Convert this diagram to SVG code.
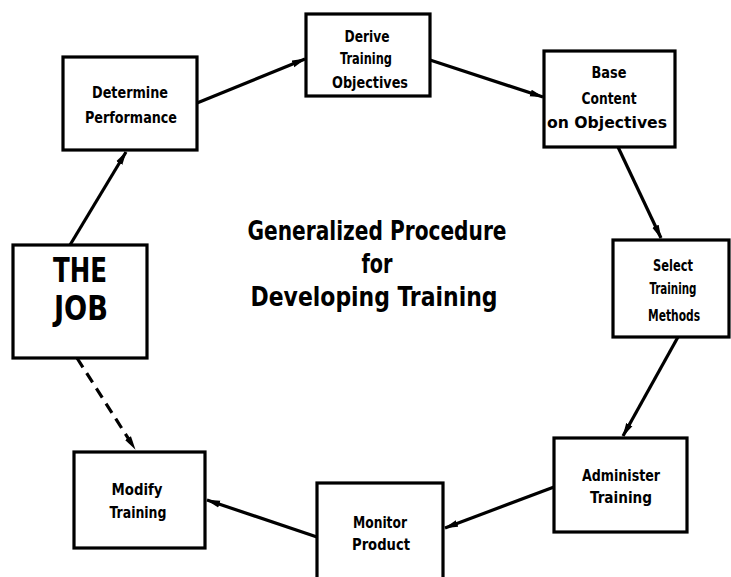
<svg xmlns="http://www.w3.org/2000/svg" width="731" height="577" viewBox="0 0 731 577">
<style>
.box{fill:#fff;stroke:#000;stroke-width:3.2}
.lbl{font-family:"Liberation Sans Narrow","DejaVu Sans Condensed","Liberation Sans",sans-serif;font-weight:bold;fill:#000;text-anchor:middle;font-size:16px}
.big{font-size:34px}
.title{font-size:27px}
.con{stroke:#000;stroke-width:3.2;fill:none}
.dash{stroke-dasharray:11 7}
</style>
<defs>
<marker id="ah" viewBox="0 0 14 8" refX="13" refY="4" markerWidth="14" markerHeight="8" markerUnits="userSpaceOnUse" orient="auto">
<path d="M0,0.5 L14,4 L0,7.5 Z" fill="#000"/>
</marker>
</defs>
<rect width="731" height="577" fill="#fff"/>
<g id="connectors">
<line class="con" x1="197" y1="103" x2="305" y2="59" marker-end="url(#ah)"/>
<line class="con" x1="430" y1="60" x2="543" y2="97" marker-end="url(#ah)"/>
<line class="con" x1="618" y1="147" x2="661" y2="238" marker-end="url(#ah)"/>
<line class="con" x1="678" y1="337" x2="623" y2="436" marker-end="url(#ah)"/>
<line class="con" x1="554" y1="487" x2="445" y2="528" marker-end="url(#ah)"/>
<line class="con" x1="317" y1="537" x2="207" y2="500" marker-end="url(#ah)"/>
<line class="con" x1="70" y1="245" x2="126" y2="152" marker-end="url(#ah)"/>
<line class="con dash" x1="77" y1="358" x2="135" y2="449" marker-end="url(#ah)"/>
</g>
<g id="determine">
<rect class="box" x="63" y="57" width="134" height="93"/>
<text class="lbl" x="130" y="98" textLength="76" lengthAdjust="spacingAndGlyphs">Determine</text>
<text class="lbl" x="131" y="123" textLength="92" lengthAdjust="spacingAndGlyphs">Performance</text>
</g>
<g id="derive">
<rect class="box" x="306" y="14" width="124" height="82"/>
<text class="lbl" x="367" y="42" textLength="45" lengthAdjust="spacingAndGlyphs">Derive</text>
<text class="lbl" x="366" y="64" textLength="52" lengthAdjust="spacingAndGlyphs">Training</text>
<text class="lbl" x="370" y="88" textLength="76" lengthAdjust="spacingAndGlyphs">Objectives</text>
</g>
<g id="base">
<rect class="box" x="544" y="51" width="131" height="96"/>
<text class="lbl" x="609" y="78" textLength="35" lengthAdjust="spacingAndGlyphs">Base</text>
<text class="lbl" x="609" y="104" textLength="55" lengthAdjust="spacingAndGlyphs">Content</text>
<text class="lbl" x="607" y="128" textLength="120" lengthAdjust="spacingAndGlyphs">on Objectives</text>
</g>
<g id="select">
<rect class="box" x="613" y="240" width="116" height="97"/>
<text class="lbl" x="673" y="271" textLength="40" lengthAdjust="spacingAndGlyphs">Select</text>
<text class="lbl" x="673" y="294" textLength="47" lengthAdjust="spacingAndGlyphs">Training</text>
<text class="lbl" x="674" y="321" textLength="52" lengthAdjust="spacingAndGlyphs">Methods</text>
</g>
<g id="administer">
<rect class="box" x="554" y="438" width="133" height="94"/>
<text class="lbl" x="621" y="481" textLength="78" lengthAdjust="spacingAndGlyphs">Administer</text>
<text class="lbl" x="621" y="503" textLength="62" lengthAdjust="spacingAndGlyphs">Training</text>
</g>
<g id="monitor">
<rect class="box" x="317" y="483" width="126" height="104"/>
<text class="lbl" x="380" y="528" textLength="54" lengthAdjust="spacingAndGlyphs">Monitor</text>
<text class="lbl" x="381" y="550" textLength="58" lengthAdjust="spacingAndGlyphs">Product</text>
</g>
<g id="modify">
<rect class="box" x="74" y="452" width="131" height="96"/>
<text class="lbl" x="137" y="495" textLength="51" lengthAdjust="spacingAndGlyphs">Modify</text>
<text class="lbl" x="138" y="518" textLength="57" lengthAdjust="spacingAndGlyphs">Training</text>
</g>
<g id="thejob">
<rect class="box" x="13" y="245" width="134" height="113"/>
<text class="lbl big" x="80" y="282" textLength="54" lengthAdjust="spacingAndGlyphs">THE</text>
<text class="lbl big" x="81" y="320" textLength="54" lengthAdjust="spacingAndGlyphs">JOB</text>
</g>
<g id="title">
<text class="lbl title" x="377" y="240" textLength="259" lengthAdjust="spacingAndGlyphs">Generalized Procedure</text>
<text class="lbl title" x="377" y="273" textLength="31" lengthAdjust="spacingAndGlyphs">for</text>
<text class="lbl title" x="374" y="306" textLength="247" lengthAdjust="spacingAndGlyphs">Developing Training</text>
</g>
</svg>
